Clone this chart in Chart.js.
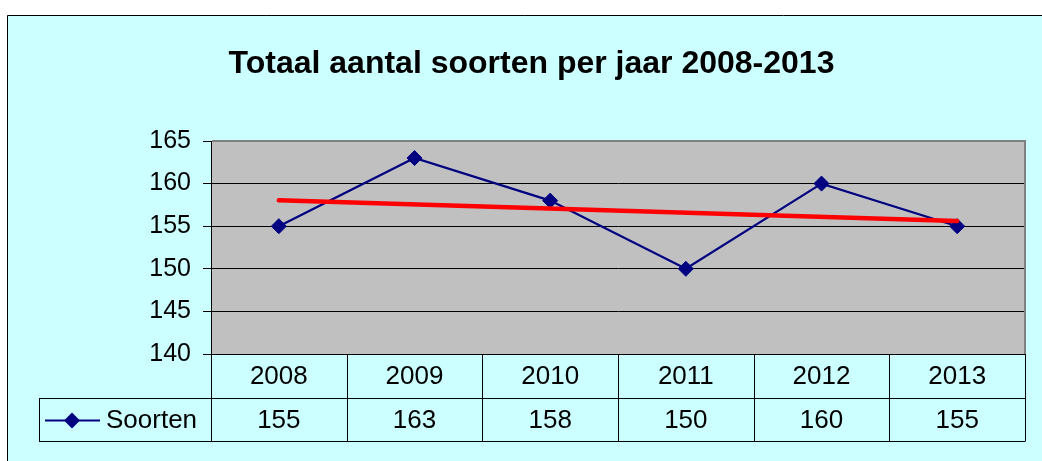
<!DOCTYPE html>
<html><head><meta charset="utf-8">
<script src="https://cdn.jsdelivr.net/npm/chart.js@4.4.1/dist/chart.umd.min.js"></script>
<style>html,body{margin:0;padding:0;background:#fff;overflow:hidden}#wrap{width:1042px;height:461px;position:relative}</style>
</head><body><div id="wrap"><canvas id="c" width="1042" height="461"></canvas></div>
<script>
const titleText = 'Totaal aantal soorten per jaar 2008-2013';
const categories = ['2008', '2009', '2010', '2011', '2012', '2013'];
const seriesName = 'Soorten';
const soorten = [155, 163, 158, 150, 160, 155];
const trendEnds = [158.05, 155.62];
const yMin = 140, yMax = 165, yStep = 5;

const FONT = '"Liberation Sans", Arial, sans-serif';
const NAVY = '#000080';
const CYAN = '#CCFFFF';

const backgroundPlugin = {
  id: 'bg',
  beforeDraw(chart) {
    const ctx = chart.ctx, ca = chart.chartArea;
    ctx.save();
    ctx.fillStyle = '#ffffff';
    ctx.fillRect(0, 0, chart.width, chart.height);
    ctx.fillStyle = CYAN;
    ctx.fillRect(7, 15, chart.width, chart.height);
    ctx.strokeStyle = '#000';
    ctx.lineWidth = 1;
    ctx.beginPath();
    ctx.moveTo(7.5, chart.height);
    ctx.lineTo(7.5, 15.5);
    ctx.lineTo(chart.width, 15.5);
    ctx.stroke();
    ctx.fillStyle = '#C0C0C0';
    ctx.fillRect(ca.left, ca.top, ca.right - ca.left, ca.bottom - ca.top);
    ctx.restore();
  },
  beforeDatasetsDraw(chart) {
    const ctx = chart.ctx, ca = chart.chartArea;
    ctx.save();
    ctx.strokeStyle = '#808080';
    ctx.lineWidth = 2;
    ctx.beginPath();
    ctx.moveTo(ca.left + 1, ca.top);
    ctx.lineTo(ca.right, ca.top);
    ctx.lineTo(ca.right, ca.bottom);
    ctx.stroke();
    ctx.restore();
  }
};

const tablePlugin = {
  id: 'datatable',
  afterDraw(chart) {
    const ctx = chart.ctx, ca = chart.chartArea, xs = chart.scales.x;
    const n = categories.length;
    const colW = (ca.right - ca.left) / n;
    const r0 = ca.bottom, r1 = ca.bottom + 44, r2 = ca.bottom + 87;
    const legLeft = 39;
    ctx.save();
    ctx.strokeStyle = '#000';
    ctx.lineWidth = 1;
    ctx.beginPath();
    ctx.moveTo(legLeft, Math.round(r1) + 0.5); ctx.lineTo(ca.right, Math.round(r1) + 0.5);
    ctx.moveTo(legLeft, Math.round(r2) + 0.5); ctx.lineTo(ca.right, Math.round(r2) + 0.5);
    ctx.moveTo(legLeft + 0.5, Math.round(r1) + 0.5); ctx.lineTo(legLeft + 0.5, Math.round(r2) + 0.5);
    for (let i = 0; i <= n; i++) {
      const x = Math.round(ca.left + i * colW) + 0.5;
      ctx.moveTo(x, r0); ctx.lineTo(x, Math.round(r2) + 0.5);
    }
    ctx.stroke();
    ctx.fillStyle = '#000';
    ctx.font = '26px ' + FONT;
    ctx.textAlign = 'center';
    ctx.textBaseline = 'middle';
    for (let i = 0; i < n; i++) {
      const cx = xs.getPixelForValue(i);
      ctx.fillText(categories[i], cx, (r0 + r1) / 2 + 1);
      ctx.fillText(String(soorten[i]), cx, (r1 + r2) / 2 + 1);
    }
    const ly = (r1 + r2) / 2 + 1;
    ctx.strokeStyle = NAVY;
    ctx.lineWidth = 2;
    ctx.beginPath();
    ctx.moveTo(45, ly); ctx.lineTo(100, ly);
    ctx.stroke();
    ctx.fillStyle = NAVY;
    ctx.beginPath();
    ctx.moveTo(72, ly - 8); ctx.lineTo(80, ly); ctx.lineTo(72, ly + 8); ctx.lineTo(64, ly);
    ctx.closePath(); ctx.fill();
    ctx.fillStyle = '#000';
    ctx.textAlign = 'left';
    ctx.fillText(seriesName, 106, ly);
    ctx.restore();
  }
};

new Chart(document.getElementById('c'), {
  type: 'line',
  data: {
    labels: categories,
    datasets: [
      {
        label: 'Trend',
        data: [{ x: categories[0], y: trendEnds[0] }, { x: categories[categories.length - 1], y: trendEnds[1] }],
        borderColor: '#FF0000',
        borderWidth: 4.5,
        borderCapStyle: 'round',
        pointRadius: 0,
        order: 1
      },
      {
        label: seriesName,
        data: soorten,
        borderColor: NAVY,
        backgroundColor: NAVY,
        borderWidth: 2.2,
        pointStyle: 'rectRot',
        pointRadius: 7.5,
        pointBorderWidth: 1,
        pointBackgroundColor: NAVY,
        pointBorderColor: NAVY,
        tension: 0,
        order: 2
      }
    ]
  },
  options: {
    responsive: false,
    animation: false,
    layout: { padding: { left: 38, right: 17, top: 0, bottom: 107 } },
    plugins: {
      legend: { display: false },
      tooltip: { enabled: false },
      title: {
        display: true,
        text: titleText,
        color: '#000',
        font: { family: FONT, size: 32, weight: 'bold' },
        padding: { top: 45, bottom: 57.6 }
      }
    },
    scales: {
      x: {
        type: 'category',
        display: false,
        offset: true
      },
      y: {
        min: yMin,
        max: yMax,
        afterFit(scale) { scale.width = 211 - 38; },
        ticks: {
          stepSize: yStep,
          color: '#000',
          padding: 12,
          font: { family: FONT, size: 25 }
        },
        grid: {
          color: '#000',
          lineWidth: 1,
          tickLength: 8,
          drawTicks: true
        },
        border: { display: true, color: '#000', width: 1 }
      }
    }
  },
  plugins: [backgroundPlugin, tablePlugin]
});
</script></body></html>
